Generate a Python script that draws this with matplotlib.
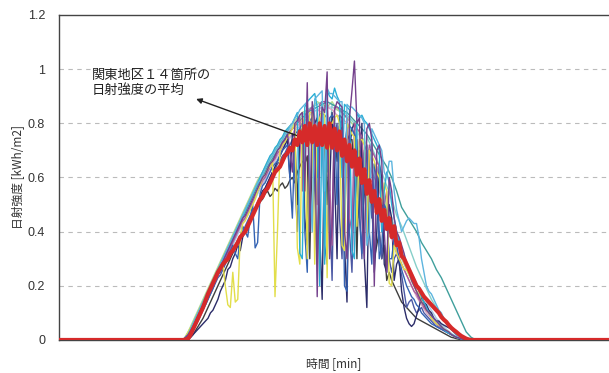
import numpy as np
import matplotlib
matplotlib.use("Agg")
import matplotlib.pyplot as plt

plt.rcParams['font.family'] = ['Noto Sans CJK JP', 'DejaVu Sans']

# Time axes (minutes of the day): coarse samples every 13 min, fine samples every 6.5 min
minutes_coarse = np.arange(325, 325 + 13 * 60, 13)
minutes_fine = np.arange(325, 325 + 6.5 * 120, 6.5)
day_start, day_end = 0, 1440

# Irradiance at the 14 sites [kWh/m2] -- clear-sky-like sites on the coarse axis
site_teal = [0, 0.02, 0.05, 0.09, 0.13, 0.17, 0.21, 0.25, 0.29, 0.33,
             0.37, 0.41, 0.45, 0.49, 0.53, 0.57, 0.60, 0.64, 0.67, 0.70,
             0.73, 0.76, 0.78, 0.80, 0.82, 0.84, 0.85, 0.86, 0.87, 0.88,
             0.87, 0.86, 0.85, 0.84, 0.82, 0.80, 0.78, 0.76, 0.73, 0.70,
             0.67, 0.64, 0.60, 0.55, 0.49, 0.46, 0.43, 0.40, 0.36, 0.33,
             0.30, 0.26, 0.23, 0.19, 0.15, 0.11, 0.07, 0.03, 0.01, 0]
site_green = [0, 0.03, 0.07, 0.11, 0.15, 0.19, 0.23, 0.27, 0.31, 0.35,
              0.39, 0.43, 0.47, 0.51, 0.55, 0.59, 0.62, 0.66, 0.69, 0.72,
              0.75, 0.78, 0.80, 0.82, 0.84, 0.85, 0.86, 0.88, 0.87, 0.86,
              0.88, 0.85, 0.84, 0.82, 0.80, 0.78, 0.75, 0.72, 0.66, 0.60,
              0.56, 0.48, 0.44, 0.38, 0.30, 0.26, 0.22, 0.18, 0.15, 0.12,
              0.09, 0.07, 0.05, 0.035, 0.02, 0.01, 0.005, 0, 0, 0]
site_rose = [0, 0.02, 0.05, 0.09, 0.13, 0.17, 0.21, 0.24, 0.28, 0.32,
             0.36, 0.40, 0.44, 0.47, 0.51, 0.55, 0.58, 0.62, 0.65, 0.68,
             0.71, 0.74, 0.76, 0.79, 0.81, 0.83, 0.70, 0.85, 0.84, 0.86,
             0.85, 0.83, 0.82, 0.80, 0.78, 0.74, 0.70, 0.66, 0.62, 0.58,
             0.52, 0.46, 0.40, 0.33, 0.28, 0.24, 0.20, 0.16, 0.13, 0.10,
             0.08, 0.06, 0.04, 0.03, 0.02, 0.01, 0.005, 0, 0, 0]
site_pale = [0, 0.02, 0.05, 0.09, 0.13, 0.17, 0.20, 0.24, 0.28, 0.31,
             0.35, 0.39, 0.43, 0.46, 0.50, 0.54, 0.57, 0.61, 0.64, 0.67,
             0.70, 0.73, 0.76, 0.78, 0.80, 0.82, 0.84, 0.85, 0.86, 0.86,
             0.86, 0.85, 0.84, 0.82, 0.80, 0.77, 0.74, 0.70, 0.66, 0.61,
             0.56, 0.50, 0.45, 0.40, 0.34, 0.29, 0.25, 0.21, 0.17, 0.14,
             0.11, 0.08, 0.06, 0.04, 0.025, 0.012, 0.004, 0, 0, 0]
site_turq = [0, 0.02, 0.06, 0.10, 0.14, 0.18, 0.22, 0.26, 0.30, 0.34,
             0.38, 0.42, 0.46, 0.50, 0.54, 0.58, 0.62, 0.65, 0.68, 0.71,
             0.74, 0.77, 0.79, 0.81, 0.83, 0.85, 0.86, 0.87, 0.88, 0.62,
             0.87, 0.86, 0.85, 0.83, 0.81, 0.79, 0.50, 0.75, 0.71, 0.67,
             0.62, 0.57, 0.52, 0.46, 0.42, 0.37, 0.32, 0.27, 0.23, 0.19,
             0.15, 0.12, 0.09, 0.06, 0.04, 0.02, 0.008, 0, 0, 0]

# Cloud-affected sites on the fine axis
site_navy = [0, 0, 0, 0.01, 0.02, 0.03, 0.04, 0.05, 0.06, 0.07,
             0.08, 0.10, 0.11, 0.13, 0.15, 0.18, 0.20, 0.22, 0.26, 0.27,
             0.30, 0.32, 0.35, 0.33, 0.38, 0.40, 0.42, 0.45, 0.47, 0.48,
             0.50, 0.53, 0.55, 0.56, 0.58, 0.60, 0.62, 0.64, 0.66, 0.68,
             0.70, 0.72, 0.74, 0.60, 0.76, 0.75, 0.50, 0.77, 0.78, 0.45,
             0.35, 0.79, 0.80, 0.80, 0.82, 0.40, 0.15, 0.78, 0.79, 0.55,
             0.84, 0.60, 0.30, 0.83, 0.82, 0.35, 0.14, 0.70, 0.78, 0.80,
             0.55, 0.45, 0.80, 0.30, 0.12, 0.68, 0.72, 0.25, 0.40, 0.65,
             0.60, 0.28, 0.25, 0.50, 0.45, 0.22, 0.28, 0.30, 0.18, 0.12,
             0.08, 0.06, 0.05, 0.06, 0.09, 0.12, 0.16, 0.14, 0.13, 0.11,
             0.10, 0.08, 0.07, 0.07, 0.06, 0.055, 0.05, 0.045, 0.04, 0.03,
             0.02, 0.015, 0.01, 0.007, 0.005, 0.002, 0, 0, 0, 0]
site_purple = [0, 0.01, 0.02, 0.035, 0.05, 0.07, 0.09, 0.11, 0.13, 0.15,
               0.17, 0.19, 0.21, 0.23, 0.25, 0.27, 0.29, 0.31, 0.33, 0.35,
               0.37, 0.39, 0.41, 0.43, 0.45, 0.46, 0.48, 0.50, 0.52, 0.54,
               0.56, 0.58, 0.60, 0.61, 0.63, 0.65, 0.66, 0.68, 0.70, 0.71,
               0.73, 0.74, 0.76, 0.70, 0.62, 0.80, 0.81, 0.83, 0.84, 0.55,
               0.95, 0.40, 0.88, 0.80, 0.16, 0.70, 0.86, 0.84, 0.99, 0.30,
               0.42, 0.85, 0.88, 0.87, 0.86, 0.40, 0.30, 0.82, 0.92, 1.03,
               0.80, 0.82, 0.45, 0.30, 0.78, 0.80, 0.74, 0.20, 0.70, 0.72,
               0.66, 0.40, 0.25, 0.60, 0.55, 0.45, 0.40, 0.38, 0.35, 0.32,
               0.28, 0.25, 0.22, 0.20, 0.18, 0.16, 0.14, 0.13, 0.11, 0.10,
               0.09, 0.08, 0.07, 0.06, 0.05, 0.04, 0.035, 0.03, 0.02, 0.015,
               0.01, 0.008, 0.005, 0.002, 0, 0, 0, 0, 0, 0]
site_yellow = [0, 0.01, 0.03, 0.045, 0.06, 0.08, 0.10, 0.12, 0.14, 0.16,
               0.18, 0.20, 0.22, 0.24, 0.26, 0.27, 0.28, 0.20, 0.13, 0.12,
               0.25, 0.14, 0.15, 0.38, 0.43, 0.44, 0.46, 0.48, 0.50, 0.52,
               0.55, 0.57, 0.60, 0.61, 0.63, 0.64, 0.66, 0.16, 0.40, 0.70,
               0.72, 0.73, 0.75, 0.76, 0.78, 0.80, 0.34, 0.28, 0.82, 0.80,
               0.30, 0.84, 0.84, 0.28, 0.78, 0.82, 0.85, 0.83, 0.23, 0.80,
               0.80, 0.82, 0.83, 0.80, 0.35, 0.33, 0.80, 0.78, 0.76, 0.75,
               0.42, 0.74, 0.74, 0.72, 0.38, 0.70, 0.68, 0.66, 0.62, 0.60,
               0.50, 0.58, 0.55, 0.21, 0.20, 0.35, 0.32, 0.30, 0.28, 0.26,
               0.26, 0.24, 0.22, 0.20, 0.18, 0.17, 0.14, 0.13, 0.11, 0.10,
               0.08, 0.07, 0.06, 0.055, 0.05, 0.04, 0.035, 0.03, 0.02, 0.015,
               0.01, 0.008, 0.005, 0.002, 0, 0, 0, 0, 0, 0]
site_cyan = [0, 0.01, 0.02, 0.04, 0.06, 0.08, 0.10, 0.12, 0.14, 0.16,
             0.18, 0.20, 0.22, 0.24, 0.26, 0.28, 0.30, 0.32, 0.34, 0.36,
             0.38, 0.40, 0.42, 0.44, 0.46, 0.48, 0.50, 0.52, 0.54, 0.56,
             0.58, 0.60, 0.62, 0.64, 0.66, 0.68, 0.69, 0.71, 0.72, 0.74,
             0.75, 0.77, 0.78, 0.79, 0.80, 0.82, 0.84, 0.32, 0.30, 0.86,
             0.88, 0.89, 0.90, 0.91, 0.86, 0.20, 0.88, 0.28, 0.92, 0.90,
             0.89, 0.93, 0.90, 0.88, 0.60, 0.87, 0.86, 0.85, 0.33, 0.30,
             0.84, 0.82, 0.83, 0.81, 0.80, 0.78, 0.76, 0.74, 0.72, 0.70,
             0.40, 0.55, 0.62, 0.58, 0.50, 0.45, 0.40, 0.36, 0.33, 0.30,
             0.28, 0.26, 0.24, 0.22, 0.20, 0.18, 0.16, 0.14, 0.12, 0.10,
             0.09, 0.08, 0.07, 0.06, 0.05, 0.04, 0.03, 0.025, 0.02, 0.015,
             0.01, 0.007, 0.005, 0.002, 0, 0, 0, 0, 0, 0]
site_blue = [0, 0.005, 0.01, 0.025, 0.04, 0.06, 0.08, 0.10, 0.12, 0.13,
             0.15, 0.17, 0.19, 0.22, 0.24, 0.25, 0.27, 0.29, 0.31, 0.33,
             0.35, 0.32, 0.30, 0.38, 0.42, 0.40, 0.38, 0.45, 0.50, 0.34,
             0.36, 0.54, 0.57, 0.58, 0.60, 0.62, 0.64, 0.65, 0.66, 0.68,
             0.70, 0.71, 0.72, 0.60, 0.45, 0.76, 0.77, 0.78, 0.80, 0.40,
             0.25, 0.81, 0.82, 0.70, 0.60, 0.83, 0.84, 0.35, 0.28, 0.82,
             0.83, 0.82, 0.50, 0.80, 0.81, 0.20, 0.18, 0.79, 0.78, 0.76,
             0.70, 0.45, 0.32, 0.70, 0.72, 0.40, 0.28, 0.65, 0.60, 0.30,
             0.35, 0.50, 0.48, 0.30, 0.30, 0.38, 0.35, 0.30, 0.26, 0.23,
             0.20, 0.18, 0.16, 0.15, 0.13, 0.12, 0.10, 0.09, 0.08, 0.07,
             0.06, 0.055, 0.05, 0.045, 0.04, 0.035, 0.03, 0.025, 0.02, 0.015,
             0.01, 0.007, 0.005, 0.002, 0, 0, 0, 0, 0, 0]
site_sky = [0, 0.01, 0.02, 0.04, 0.06, 0.08, 0.10, 0.12, 0.14, 0.16,
            0.18, 0.20, 0.22, 0.24, 0.26, 0.28, 0.30, 0.32, 0.34, 0.36,
            0.38, 0.40, 0.42, 0.44, 0.46, 0.48, 0.50, 0.52, 0.54, 0.56,
            0.58, 0.59, 0.61, 0.63, 0.65, 0.67, 0.68, 0.70, 0.71, 0.73,
            0.74, 0.76, 0.77, 0.79, 0.80, 0.82, 0.83, 0.85, 0.86, 0.87,
            0.88, 0.60, 0.40, 0.89, 0.90, 0.91, 0.92, 0.55, 0.93, 0.91,
            0.91, 0.90, 0.89, 0.88, 0.88, 0.45, 0.87, 0.86, 0.86, 0.85,
            0.84, 0.83, 0.82, 0.80, 0.35, 0.40, 0.78, 0.76, 0.74, 0.72,
            0.70, 0.62, 0.60, 0.66, 0.66, 0.55, 0.48, 0.44, 0.40, 0.42,
            0.44, 0.45, 0.44, 0.43, 0.43, 0.38, 0.30, 0.25, 0.20, 0.18,
            0.17, 0.15, 0.13, 0.11, 0.10, 0.08, 0.07, 0.05, 0.04, 0.03,
            0.02, 0.012, 0.005, 0.002, 0, 0, 0, 0, 0, 0]
site_gray = [0, 0, 0.005, 0.01, 0.02, 0.035, 0.05, 0.065, 0.08, 0.10,
             0.12, 0.14, 0.16, 0.18, 0.20, 0.22, 0.24, 0.26, 0.28, 0.30,
             0.32, 0.34, 0.36, 0.37, 0.39, 0.41, 0.43, 0.45, 0.46, 0.48,
             0.50, 0.51, 0.52, 0.54, 0.55, 0.53, 0.54, 0.56, 0.55, 0.57,
             0.58, 0.56, 0.57, 0.59, 0.60, 0.58, 0.62, 0.64, 0.66, 0.65,
             0.68, 0.30, 0.72, 0.74, 0.60, 0.75, 0.76, 0.78, 0.50, 0.79,
             0.80, 0.78, 0.66, 0.79, 0.78, 0.40, 0.76, 0.74, 0.74, 0.62,
             0.30, 0.70, 0.68, 0.55, 0.45, 0.58, 0.50, 0.30, 0.35, 0.40,
             0.30, 0.35, 0.22, 0.25, 0.22, 0.20, 0.18, 0.16, 0.14, 0.13,
             0.12, 0.11, 0.10, 0.09, 0.08, 0.075, 0.07, 0.065, 0.06, 0.055,
             0.05, 0.045, 0.04, 0.035, 0.03, 0.025, 0.02, 0.015, 0.01, 0.008,
             0.005, 0.003, 0, 0, 0, 0, 0, 0, 0, 0]
site_magenta = [0, 0.01, 0.02, 0.035, 0.05, 0.065, 0.08, 0.10, 0.12, 0.14,
                0.16, 0.18, 0.20, 0.22, 0.24, 0.26, 0.28, 0.30, 0.32, 0.34,
                0.36, 0.38, 0.40, 0.42, 0.44, 0.45, 0.47, 0.49, 0.51, 0.53,
                0.55, 0.57, 0.59, 0.60, 0.62, 0.64, 0.66, 0.67, 0.69, 0.70,
                0.72, 0.74, 0.75, 0.77, 0.78, 0.79, 0.80, 0.82, 0.55, 0.83,
                0.84, 0.85, 0.86, 0.70, 0.50, 0.87, 0.88, 0.88, 0.87, 0.60,
                0.35, 0.86, 0.86, 0.85, 0.84, 0.83, 0.82, 0.45, 0.40, 0.80,
                0.78, 0.77, 0.75, 0.60, 0.55, 0.72, 0.70, 0.68, 0.66, 0.64,
                0.40, 0.50, 0.55, 0.45, 0.38, 0.35, 0.32, 0.30, 0.28, 0.26,
                0.24, 0.22, 0.20, 0.18, 0.17, 0.15, 0.14, 0.12, 0.11, 0.10,
                0.08, 0.07, 0.06, 0.05, 0.045, 0.04, 0.03, 0.025, 0.02, 0.015,
                0.01, 0.007, 0.004, 0.002, 0, 0, 0, 0, 0, 0]
site_slate = [0, 0.005, 0.01, 0.025, 0.04, 0.055, 0.07, 0.09, 0.11, 0.13,
              0.15, 0.17, 0.19, 0.21, 0.23, 0.24, 0.26, 0.28, 0.30, 0.31,
              0.33, 0.35, 0.37, 0.38, 0.40, 0.42, 0.44, 0.46, 0.48, 0.49,
              0.51, 0.53, 0.55, 0.56, 0.58, 0.60, 0.62, 0.63, 0.65, 0.66,
              0.68, 0.69, 0.71, 0.72, 0.74, 0.60, 0.40, 0.76, 0.78, 0.79,
              0.80, 0.81, 0.82, 0.55, 0.28, 0.83, 0.84, 0.83, 0.82, 0.50,
              0.22, 0.75, 0.80, 0.45, 0.30, 0.72, 0.78, 0.40, 0.25, 0.60,
              0.74, 0.50, 0.30, 0.62, 0.70, 0.55, 0.45, 0.52, 0.64, 0.40,
              0.30, 0.40, 0.45, 0.30, 0.25, 0.30, 0.32, 0.28, 0.24, 0.18,
              0.12, 0.14, 0.15, 0.12, 0.10, 0.11, 0.12, 0.10, 0.09, 0.08,
              0.07, 0.06, 0.05, 0.045, 0.04, 0.035, 0.03, 0.025, 0.02, 0.015,
              0.01, 0.007, 0.004, 0.002, 0, 0, 0, 0, 0, 0]

# Average over the 14 sites (fine axis)
kanto_mean = [0, 0.002, 0.005, 0.02, 0.04, 0.06, 0.08, 0.10, 0.12, 0.145,
              0.17, 0.19, 0.21, 0.23, 0.25, 0.265, 0.28, 0.29, 0.30, 0.32,
              0.33, 0.345, 0.36, 0.38, 0.39, 0.40, 0.42, 0.44, 0.46, 0.48,
              0.50, 0.52, 0.53, 0.55, 0.56, 0.58, 0.60, 0.62, 0.63, 0.64,
              0.66, 0.68, 0.69, 0.71, 0.70, 0.74, 0.72, 0.77, 0.73, 0.79,
              0.72, 0.80, 0.73, 0.79, 0.72, 0.80, 0.72, 0.79, 0.71, 0.80,
              0.71, 0.78, 0.70, 0.77, 0.68, 0.74, 0.66, 0.72, 0.64, 0.70,
              0.61, 0.67, 0.58, 0.63, 0.54, 0.59, 0.51, 0.55, 0.47, 0.52,
              0.44, 0.48, 0.41, 0.45, 0.38, 0.42, 0.35, 0.36, 0.31, 0.30,
              0.28, 0.26, 0.24, 0.22, 0.20, 0.19, 0.175, 0.16, 0.15, 0.14,
              0.13, 0.12, 0.11, 0.10, 0.085, 0.075, 0.067, 0.055, 0.045, 0.037,
              0.03, 0.022, 0.015, 0.01, 0.005, 0.002, 0, 0, 0, 0]

# (values, time axis, colour) in drawing order
sites = [
    (site_pale, minutes_coarse, '#a6c8e6'),
    (site_green, minutes_coarse, '#b2d98f'),
    (site_turq, minutes_coarse, '#86cfc9'),
    (site_rose, minutes_coarse, '#d9a6c4'),
    (site_teal, minutes_coarse, '#3f9f9c'),
    (site_gray, minutes_fine, '#3e3e3e'),
    (site_slate, minutes_fine, '#4b58a4'),
    (site_navy, minutes_fine, '#2b2c69'),
    (site_magenta, minutes_fine, '#a95c9d'),
    (site_blue, minutes_fine, '#3463b3'),
    (site_yellow, minutes_fine, '#e2de4a'),
    (site_cyan, minutes_fine, '#2aaed5'),
    (site_sky, minutes_fine, '#5db5df'),
    (site_purple, minutes_fine, '#74408c'),
]

yticks = [0, 0.2, 0.4, 0.6, 0.8, 1.0, 1.2]
ytick_labels = ['0', '0.2', '0.4', '0.6', '0.8', '1', '1.2']


def with_night(times, values):
    """Pad a daylight series with the zero readings before sunrise and after sunset."""
    t = np.concatenate(([day_start], times, [day_end]))
    v = np.concatenate(([0.0], values, [0.0]))
    return t, v


fig = plt.figure(figsize=(6.09, 3.73), dpi=100)
ax = fig.add_axes([0.0969, 0.0885, 0.9031, 0.8713])

for values, times, color in sites:
    t, v = with_night(times, values)
    ax.plot(t, v, color=color, lw=1.0)

t, v = with_night(minutes_fine, kanto_mean)
ax.plot(t, v, color='#d62a2a', lw=3.0, zorder=5)

ax.set_xlim(day_start, day_end)
ax.set_ylim(0, 1.2)
ax.set_yticks(yticks)
ax.set_yticklabels(ytick_labels, family='Liberation Sans', fontsize=9, color='#333333')
ax.set_xticks([])
ax.tick_params(axis='y', length=0, pad=10)

for y in yticks[1:-1]:
    ax.axhline(y, color='#bbbbbb', lw=0.8, ls=(0, (4, 4)), zorder=0)

for side in ('left', 'bottom', 'top'):
    ax.spines[side].set_color('#444444')
    ax.spines[side].set_linewidth(1.0)
ax.spines['right'].set_visible(False)

ax.set_ylabel('日射強度 [kWh/m2]', fontsize=8.5, color='#333333', labelpad=2)
ax.set_xlabel('時間 [min]', fontsize=8.5, color='#333333', labelpad=12)

ax.text(86, 1.0, '関東地区１４箇所の\n日射強度の平均', fontsize=9.5,
        color='#222222', ha='left', va='top', linespacing=1.15)
ax.annotate('', xy=(359, 0.89), xytext=(652, 0.74), textcoords='data',
            arrowprops=dict(arrowstyle='-|>', color='#222222', lw=1.0,
                            mutation_scale=8, shrinkA=0, shrinkB=0))

fig.savefig('out.png', dpi=100)
